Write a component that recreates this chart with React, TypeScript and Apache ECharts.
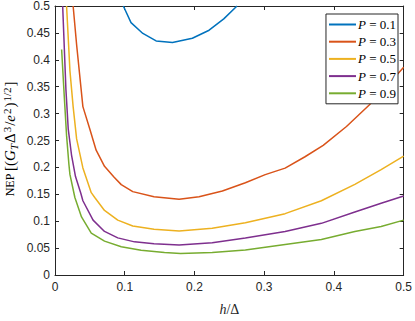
import React, { useEffect, useRef } from "react";
import * as echarts from "echarts";

const seriesNames = ["P = 0.1", "P = 0.3", "P = 0.5", "P = 0.7", "P = 0.9"];
const colors = ["#0072BD", "#D95319", "#EDB120", "#7E2F8E", "#77AC30"];

const hP01 = [0.098, 0.109, 0.126, 0.145, 0.1685, 0.197, 0.221, 0.242, 0.261];
const nepP01 = [0.5, 0.469, 0.449, 0.435, 0.432, 0.44, 0.455, 0.476, 0.5];

const hP03 = [0.026, 0.031, 0.04, 0.05, 0.059, 0.071, 0.0845, 0.095, 0.1115, 0.142, 0.178, 0.2066, 0.24, 0.273, 0.3015, 0.33, 0.3585, 0.3846, 0.418, 0.451, 0.475, 0.5];
const nepP03 = [0.5, 0.428, 0.313, 0.271, 0.232, 0.202, 0.182, 0.168, 0.155, 0.1455, 0.141, 0.1455, 0.156, 0.1715, 0.1866, 0.1987, 0.2198, 0.241, 0.276, 0.3165, 0.35, 0.386];

const hP05 = [0.0166, 0.0214, 0.026, 0.031, 0.04, 0.052, 0.057, 0.071, 0.09, 0.1115, 0.142, 0.178, 0.2255, 0.273, 0.33, 0.382, 0.43, 0.4677, 0.5];
const nepP05 = [0.5, 0.38, 0.313, 0.253, 0.199, 0.153, 0.144, 0.12, 0.102, 0.091, 0.085, 0.082, 0.087, 0.097, 0.114, 0.138, 0.1685, 0.1957, 0.221];

const hP07 = [0.011, 0.0157, 0.019, 0.0237, 0.0294, 0.037, 0.04, 0.0546, 0.071, 0.09, 0.114, 0.142, 0.178, 0.2255, 0.273, 0.33, 0.382, 0.43, 0.4677, 0.5];
const nepP07 = [0.5, 0.344, 0.271, 0.223, 0.183, 0.152, 0.138, 0.102, 0.081, 0.069, 0.0616, 0.058, 0.0556, 0.0598, 0.0688, 0.081, 0.096, 0.117, 0.1335, 0.147];

const hP09 = [0.0095, 0.0133, 0.0166, 0.02, 0.0214, 0.0285, 0.038, 0.052, 0.071, 0.095, 0.1235, 0.157, 0.18, 0.2255, 0.273, 0.33, 0.382, 0.43, 0.4677, 0.5];
const nepP09 = [0.419, 0.332, 0.259, 0.205, 0.187, 0.144, 0.108, 0.078, 0.063, 0.0525, 0.0459, 0.0417, 0.0401, 0.0417, 0.0465, 0.0567, 0.0658, 0.081, 0.09, 0.102];

const xs = [hP01, hP03, hP05, hP07, hP09];
const ys = [nepP01, nepP03, nepP05, nepP07, nepP09];

const AX = "#262626";
const SERIF = "'Liberation Serif', 'DejaVu Serif', serif";
const SANS = "'Liberation Sans', Arial, sans-serif";

export default function App() {
  const ref = useRef<HTMLDivElement>(null);
  useEffect(() => {
    if (!ref.current) return;
    const chart = echarts.init(ref.current, undefined, { renderer: "svg" });
    const baseAxis = {
      type: "value" as const,
      axisLine: { show: true, onZero: false, lineStyle: { color: AX, width: 1 } },
      axisTick: { show: true, inside: true, length: 4, lineStyle: { color: AX } },
      splitLine: { show: false },
    };
    const mathRich = {
      n: { fontFamily: SERIF, fontSize: 15, color: AX },
      s: { fontFamily: SERIF, fontSize: 12, color: AX },
      i: { fontFamily: SERIF, fontSize: 15, fontStyle: "italic", color: AX },
      sub: { fontFamily: SERIF, fontSize: 11, fontStyle: "italic", color: AX, verticalAlign: "bottom", padding: [7, 1, 0, 0] },
      sup: { fontFamily: SERIF, fontSize: 11, color: AX, verticalAlign: "top", padding: [0, 1, 7, 1] },
    };
    const xRich = {
      n: { fontFamily: SERIF, fontSize: 14, color: AX },
      i: { fontFamily: SERIF, fontSize: 14, fontStyle: "italic", color: AX },
    };
    chart.setOption({
      animation: false,
      grid: { left: 55, right: 9, top: 6, bottom: 38, containLabel: false },
      xAxis: [
        {
          ...baseAxis,
          min: 0,
          max: 0.5,
          interval: 0.1,
          position: "bottom",
          axisLabel: { color: AX, fontFamily: SANS, fontSize: 12, margin: 6 },
          name: "{i|h}{n|/Δ}",
          nameLocation: "middle",
          nameGap: 27,
          nameTextStyle: { rich: xRich },
        },
        {
          ...baseAxis,
          min: 0,
          max: 0.5,
          interval: 0.1,
          position: "top",
          axisLabel: { show: false },
        },
      ],
      yAxis: [
        {
          ...baseAxis,
          min: 0,
          max: 0.5,
          interval: 0.05,
          position: "left",
          axisLabel: { color: AX, fontFamily: SANS, fontSize: 12, margin: 5 },
        },
        {
          ...baseAxis,
          min: 0,
          max: 0.5,
          interval: 0.05,
          position: "right",
          axisLabel: { show: false },
        },
      ],
      legend: {
        orient: "vertical",
        right: 17,
        top: 14,
        icon: "rect",
        itemWidth: 27,
        itemHeight: 2,
        itemGap: 4.2,
        padding: [4, 2, 4, 3],
        borderColor: AX,
        borderWidth: 1,
        borderRadius: 0,
        backgroundColor: "#ffffff",
        data: seriesNames,
        formatter: (name: string) => "{i|P}{n|" + name.slice(1) + "}",
        textStyle: {
          padding: [0, 0, 0, -3],
          rich: {
            i: { fontFamily: SERIF, fontSize: 13, fontStyle: "italic", color: "#000" },
            n: { fontFamily: SERIF, fontSize: 13, color: "#000" },
          },
        },
      },
      graphic: [
        {
          type: "text",
          x: 10,
          y: 139,
          rotation: Math.PI / 2,
          style: {
            text: "{s|NEP }{n|[(}{i|G}{sub|T}{n|Δ}{sup|3}{n|/}{i|e}{sup|2}{n|)}{sup|1/2}{n|]}",
            align: "center",
            verticalAlign: "middle",
            rich: mathRich,
          },
        },
      ],
      series: seriesNames.map((name, k) => ({
        name,
        type: "line",
        xAxisIndex: 0,
        yAxisIndex: 0,
        symbol: "none",
        clip: true,
        data: xs[k].map((h, j) => [h, ys[k][j]]),
        lineStyle: { color: colors[k], width: 1.5 },
        itemStyle: { color: colors[k] },
      })),
    });
    return () => chart.dispose();
  }, []);
  return <div ref={ref} style={{ width: 415, height: 321, position: "absolute", left: 0, top: 0 }} />;
}
